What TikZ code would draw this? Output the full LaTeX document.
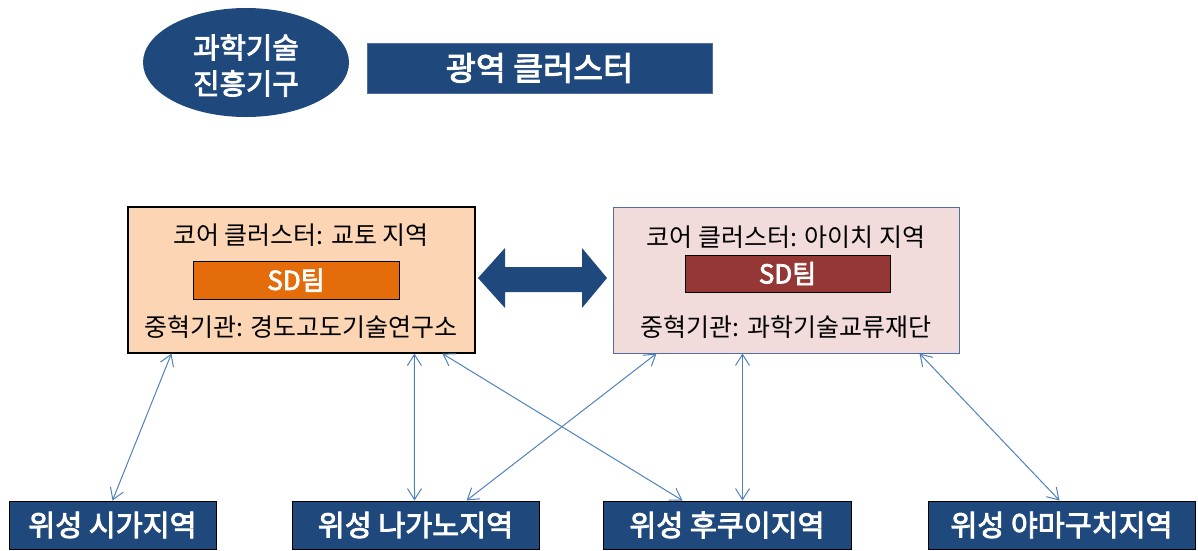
\documentclass[tikz,border=0pt]{standalone}
\usepackage{fontspec}
\setmainfont{Noto Sans CJK KR}
\newfontfamily\wfont{Noto Sans CJK KR}[FakeBold=3]
\usetikzlibrary{arrows.meta,calc,shapes.geometric}
\definecolor{navy}{RGB}{31,73,125}
\definecolor{peach}{RGB}{252,213,181}
\definecolor{pinkfill}{RGB}{242,220,219}
\definecolor{orangebox}{RGB}{228,108,10}
\definecolor{redbox}{RGB}{149,55,53}
\definecolor{linkblue}{RGB}{79,129,189}
\definecolor{rborder}{RGB}{80,110,160}
\tikzset{
  x=1pt, y=-1pt,
  corebox/.style={draw=black, line width=1.2pt, minimum width=347pt, minimum height=146pt, inner sep=0pt},
  sdbox/.style={draw=black, line width=1pt, minimum width=206pt, minimum height=38pt, inner sep=0pt, text=white, font=\wfont\fontsize{26}{30}\selectfont},
  coretext/.style={inner sep=0pt, text=black, font=\fontsize{25}{30}\selectfont},
  satbox/.style={draw=black, line width=1pt, fill=navy, minimum height=48pt, inner sep=0pt, text=white, font=\wfont\fontsize{29.3}{34}\selectfont},
  link/.style={draw=linkblue, line width=1pt, {Straight Barb[length=11pt,width=14pt]}-{Straight Barb[length=11pt,width=14pt]}},
}
\begin{document}
\begin{tikzpicture}
\useasboundingbox (0,0) rectangle (1198,550);
% top
\node[ellipse, fill=navy, minimum width=206pt, minimum height=109pt, inner sep=0pt] (agency) at (246,62.5) {};
\node[inner sep=0pt, align=center, text=white, font=\wfont\fontsize{28.7}{36}\selectfont] (agencyt) at ([yshift=-3pt]agency.center) {과학기술\\진흥기구};
\node[draw=rborder, line width=0.8pt, fill=navy, minimum width=345pt, minimum height=50pt, inner sep=0pt, text=white, font=\wfont\fontsize{32.6}{38}\selectfont] (wide) at (539.5,68) {광역 클러스터};
% core boxes
\node[corebox, fill=peach] (L) at (301.5,280) {};
\node[corebox, fill=pinkfill, draw=rborder, line width=1pt, minimum width=346pt] (R) at (786,280) {};
\node[coretext] (Lt) at (301,235) {코어 클러스터: 교토 지역};
\node[sdbox, fill=orangebox] (Lsd) at (296,280) {SD팀};
\node[coretext] (Lb) at (301,327) {중혁기관: 경도고도기술연구소};
\node[coretext] (Rt) at (786,237) {코어 클러스터: 아이치 지역};
\node[sdbox, fill=redbox, minimum width=205pt, minimum height=37pt] (Rsd) at (787.5,273.5) {SD팀};
\node[coretext] (Rb) at (786,327) {중혁기관: 과학기술교류재단};
% big double arrow
\fill[navy] (478,278) -- (505,248) -- (505,267) -- (582,267) -- (582,248) -- (607,278)
  -- (582,308) -- (582,292) -- (505,292) -- (505,308) -- cycle;
% satellites
\node[satbox, minimum width=207pt] (S1) at (112.5,525) {위성 시가지역};
\node[satbox, minimum width=247pt] (S2) at (415.5,525) {위성 나가노지역};
\node[satbox, minimum width=248pt] (S3) at (727,525) {위성 후쿠이지역};
\node[satbox, minimum width=267pt] (S4) at (1061.5,525) {위성 야마구치지역};
% links
\draw[link] ([xshift=44pt]L.south west) -- ([xshift=104pt]S1.north west);
\draw[link] ([xshift=287pt]L.south west) -- ([xshift=123pt]S2.north west);
\draw[link] ([xshift=315pt]L.south west) -- ([xshift=80pt]S3.north west);
\draw[link] ([xshift=44pt]R.south west) -- ([xshift=175pt]S2.north west);
\draw[link] ([xshift=130pt]R.south west) -- ([xshift=140pt]S3.north west);
\draw[link] ([xshift=307pt]R.south west) -- ([xshift=132pt]S4.north west);
\end{tikzpicture}
\end{document}
